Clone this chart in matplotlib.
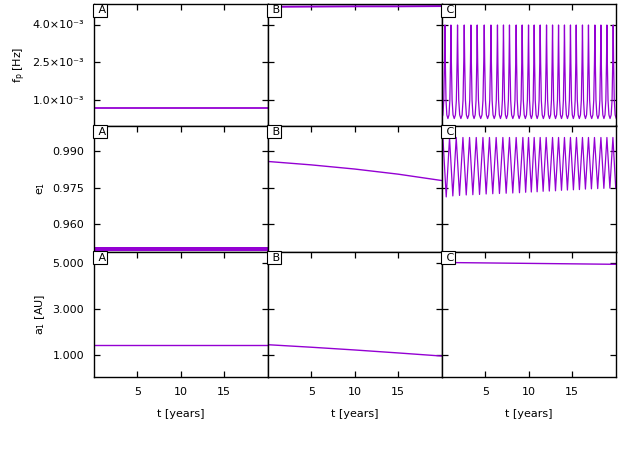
import numpy as np
import matplotlib.pyplot as plt

purple = '#9400D3'

years = [0, 5, 10, 15, 20]

# row 1: f_p [Hz]
fp_A = [0.695e-3, 0.695e-3, 0.695e-3, 0.695e-3, 0.695e-3]
fp_B = [4.70e-3, 4.71e-3, 4.72e-3, 4.72e-3, 4.73e-3]
# peak times of panel C (first and last ones lie just outside the axis)
fp_C_peak_t = [-0.36, 0.37, 1.06, 1.82, 2.59, 3.36, 4.08, 4.89, 5.66, 6.41, 7.10,
               7.79, 8.56, 9.25, 9.98, 10.63, 11.32, 12.05, 12.74, 13.43, 14.11,
               14.80, 15.46, 16.18, 16.87, 17.61, 18.30, 18.99, 19.71, 20.41]
# one cycle of panel C: phase (peak -> peak) and level
fp_C_phase = [0.0, 0.07, 0.18, 0.32, 0.5, 0.68, 0.82, 0.93]
fp_C_level = [3.98e-3, 2.5e-3, 1.0e-3, 0.42e-3, 0.275e-3, 0.42e-3, 1.0e-3, 2.5e-3]

# row 2: e_1
e_A_low = 0.9490
e_A_high = 0.9506
e_B = [0.9857, 0.9843, 0.9826, 0.9805, 0.9779]
e_C_peak_t = [0.14, 0.90, 1.67, 2.44, 3.20, 3.97, 4.74, 5.49, 6.26, 7.03, 7.79,
              8.56, 9.33, 9.98, 10.63, 11.32, 12.01, 12.74, 13.43, 14.11, 14.80,
              15.49, 16.18, 16.87, 17.56, 18.30, 18.99, 19.68]
e_C_peak = 0.9955
e_C_trough_t = [0.52, 1.28, 2.05, 2.82, 3.58, 4.35, 5.11, 5.87, 6.64, 7.41, 8.17,
                8.94, 9.65, 10.30, 10.97, 11.66, 12.37, 13.08, 13.77, 14.45, 15.14,
                15.83, 16.52, 17.21, 17.93, 18.64, 19.33, 20.0]
e_C_trough = [0.9712, 0.9716, 0.9718, 0.9720, 0.9721, 0.9722, 0.9724, 0.9725,
              0.9726, 0.9727, 0.9728, 0.9729, 0.9731, 0.9732, 0.9733, 0.9735,
              0.9736, 0.9737, 0.9739, 0.9740, 0.9741, 0.9742, 0.9744, 0.9745,
              0.9746, 0.9747, 0.9748, 0.9749]

# row 3: a_1 [AU]
a_A = [1.45, 1.45, 1.45, 1.45, 1.45]
a_B = [1.45, 1.34, 1.22, 1.09, 0.955]
a_C = [5.04, 5.02, 5.00, 4.98, 4.96]

x_ticks = [5, 10, 15]
fp_ticks = [1.0e-3, 2.5e-3, 4.0e-3]
fp_ticklabels = ['1.0×10⁻³', '2.5×10⁻³', '4.0×10⁻³']
e_ticks = [0.960, 0.975, 0.990]
a_ticks = [1.0, 3.0, 5.0]

plt.rcParams['font.family'] = 'DejaVu Sans'
plt.rcParams['font.size'] = 8
plt.rcParams['mathtext.default'] = 'regular'

fig = plt.figure(figsize=(6.22, 4.67), dpi=100)

W, H = 622.0, 467.0
col_x = [93.7, 267.7, 441.7, 615.7]
row_y = [4.3, 125.5, 251.7, 377.0]

axes = []
for r in range(3):
    row = []
    for c in range(3):
        ax = fig.add_axes([col_x[c] / W, 1 - row_y[r + 1] / H,
                           (col_x[c + 1] - col_x[c]) / W, (row_y[r + 1] - row_y[r]) / H])
        row.append(ax)
    axes.append(row)

# build the curves of panel C
fp_C_t, fp_C = [], []
for t0, t1 in zip(fp_C_peak_t[:-1], fp_C_peak_t[1:]):
    for ph, lv in zip(fp_C_phase, fp_C_level):
        fp_C_t.append(t0 + ph * (t1 - t0))
        fp_C.append(lv)
fp_C_t.append(fp_C_peak_t[-1])
fp_C.append(fp_C_level[0])

e_C_t, e_C = [], []
for tp, tt, vt in zip(e_C_peak_t, e_C_trough_t, e_C_trough):
    e_C_t += [tp, tt]
    e_C += [e_C_peak, vt]

axes[0][0].plot(years, fp_A, color=purple, lw=1.3)
axes[0][1].plot(years, fp_B, color=purple, lw=1.4)
axes[0][2].plot(fp_C_t, fp_C, color=purple, lw=0.9)

axes[1][0].fill_between(years, e_A_low, e_A_high, color=purple, lw=0)
axes[1][1].plot(years, e_B, color=purple, lw=1.0)
axes[1][2].plot(e_C_t, e_C, color=purple, lw=0.9)

axes[2][0].plot(years, a_A, color=purple, lw=1.0)
axes[2][1].plot(years, a_B, color=purple, lw=1.0)
axes[2][2].plot(years, a_C, color=purple, lw=1.0)

letters = ['A', 'B', 'C']
for r in range(3):
    for c in range(3):
        ax = axes[r][c]
        ax.set_xlim(0, 20)
        ax.set_xticks(x_ticks)
        for s in ax.spines.values():
            s.set_linewidth(1.0)
        ax.tick_params(direction='in', length=4, width=0.9, top=True, right=True,
                       bottom=(r == 2), pad=7)
        if r == 0:
            ax.set_ylim(0, 4.8e-3)
            ax.set_yticks(fp_ticks)
            ax.set_yticklabels(fp_ticklabels)
        elif r == 1:
            ax.set_ylim(0.9488, 1.0004)
            ax.set_yticks(e_ticks)
            ax.set_yticklabels(['%.3f' % v for v in e_ticks])
        else:
            ax.set_ylim(0.04, 5.51)
            ax.set_yticks(a_ticks)
            ax.set_yticklabels(['%.3f' % v for v in a_ticks])
        if c > 0:
            ax.set_yticklabels([])
        if r < 2:
            ax.set_xticklabels([])
        else:
            ax.set_xlabel('t [years]', labelpad=8.5)
        ax.annotate(' ' + letters[c], xy=(0, 1), xycoords='axes fraction',
                    xytext=(0.8, -0.8), textcoords='offset points', ha='left', va='top',
                    bbox=dict(boxstyle='square,pad=0.12', fc='white', ec='black', lw=0.8))

axes[0][0].set_ylabel('f$_p$ [Hz]', labelpad=3)
axes[1][0].set_ylabel('e$_1$', labelpad=4)
axes[2][0].set_ylabel('a$_1$ [AU]', labelpad=4)

fig.savefig('out.png', dpi=100)
